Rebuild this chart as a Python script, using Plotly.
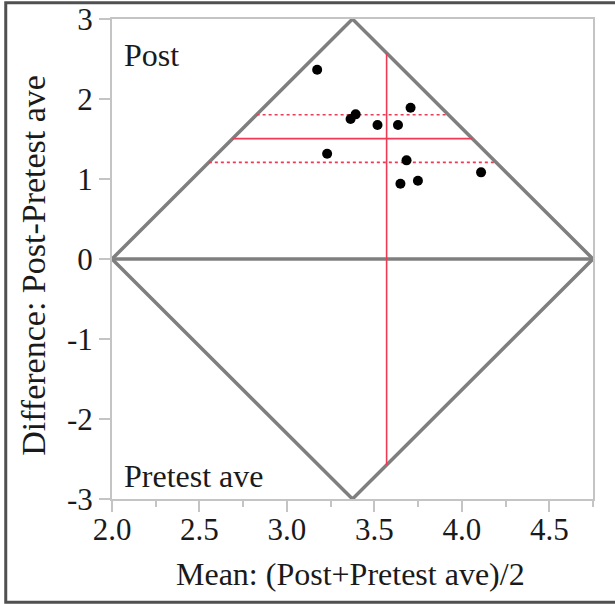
import plotly.graph_objects as go

# ---- data ----
mean_vals = [3.173, 3.230, 3.364, 3.393, 3.518, 3.635, 3.707, 3.684, 3.649, 3.749, 4.110]
diff_vals = [2.366, 1.316, 1.750, 1.808, 1.675, 1.675, 1.891, 1.233, 0.941, 0.979, 1.083]
mean_diff = 1.505
ci_upper = 1.804
ci_lower = 1.208
mean_of_means = 3.570

x_min, x_max = 2.0, 4.75
y_min, y_max = -3.0, 3.0
x_ticks = [2.0, 2.5, 3.0, 3.5, 4.0, 4.5]
x_tick_text = ["2.0", "2.5", "3.0", "3.5", "4.0", "4.5"]
y_ticks = [-3, -2, -1, 0, 1, 2, 3]
y_tick_text = ["-3", "-2", "-1", "0", "1", "2", "3"]

x_mid = (x_min + x_max) / 2
half_w = (x_max - x_min) / 2

def left_edge(y):
    return x_min + abs(y) * half_w / y_max

def right_edge(y):
    return x_max - abs(y) * half_w / y_max

def diamond_height(x):
    return y_max * (1 - abs(x - x_mid) / half_w)

FONT = "Liberation Serif"
RED = "#ee3a55"
GRAY = "#7f7f7f"
AX = "#c4c4c4"

fig = go.Figure()

# diamond
fig.add_trace(go.Scatter(
    x=[x_min, x_mid, x_max, x_mid, x_min],
    y=[0, y_max, 0, y_min, 0],
    mode="lines", line=dict(color=GRAY, width=3.5), hoverinfo="skip", showlegend=False))
# zero line
fig.add_trace(go.Scatter(
    x=[x_min, x_max], y=[0, 0],
    mode="lines", line=dict(color=GRAY, width=3.5), hoverinfo="skip", showlegend=False))

# red mean-difference line and CI lines
fig.add_trace(go.Scatter(
    x=[left_edge(mean_diff), right_edge(mean_diff)], y=[mean_diff, mean_diff],
    mode="lines", line=dict(color=RED, width=1.6), showlegend=False))
for yv in (ci_upper, ci_lower):
    fig.add_trace(go.Scatter(
        x=[left_edge(yv), right_edge(yv)], y=[yv, yv],
        mode="lines", line=dict(color=RED, width=1.6, dash="3px,3px"), showlegend=False))
h = diamond_height(mean_of_means)
fig.add_trace(go.Scatter(
    x=[mean_of_means, mean_of_means], y=[-h, h],
    mode="lines", line=dict(color=RED, width=1.6), showlegend=False))

# points
fig.add_trace(go.Scatter(
    x=mean_vals, y=diff_vals, mode="markers",
    marker=dict(color="black", size=10), showlegend=False))

fig.update_xaxes(
    range=[x_min, x_max], tickvals=x_ticks, ticktext=x_tick_text, automargin=False,
    showgrid=False, zeroline=False, showline=True, linecolor=AX, linewidth=2,
    mirror=True, ticks="outside", ticklen=11, tickwidth=1.5, tickcolor=AX,
    ticklabelstandoff=-9,
    minor=dict(dtick=0.25, tick0=2.0, ticks="outside", ticklen=6, tickwidth=1.5, tickcolor=AX, showgrid=False),
    tickfont=dict(family=FONT, size=31, color="#1a1a1a"))
fig.update_yaxes(
    range=[y_min, y_max], tickvals=y_ticks, ticktext=y_tick_text, automargin=False,
    showgrid=False, zeroline=False, showline=True, linecolor=AX, linewidth=2,
    mirror=True, ticks="outside", ticklen=11, tickwidth=1.5, tickcolor=AX,
    tickfont=dict(family=FONT, size=31, color="#1a1a1a"))

ann_font = dict(family=FONT, size=32, color="#1a1a1a")
fig.add_annotation(text="Post", xref="paper", yref="paper", x=0.02, y=0.926,
                   xanchor="left", yanchor="middle", showarrow=False, font=ann_font)
fig.add_annotation(text="Pretest ave", xref="paper", yref="paper", x=0.02, y=0.048,
                   xanchor="left", yanchor="middle", showarrow=False, font=ann_font)
fig.add_annotation(text="Mean: (Post+Pretest ave)/2", xref="paper", yref="paper",
                   x=0.495, y=-0.1565, xanchor="center", yanchor="middle",
                   showarrow=False, font=ann_font)
fig.add_annotation(text="Difference: Post-Pretest ave", xref="paper", yref="paper",
                   x=-0.163, y=0.487, xanchor="center", yanchor="middle", textangle=-90,
                   showarrow=False, font=dict(family=FONT, size=34, color="#1a1a1a"))

# outer border
fig.add_shape(type="rect", xref="paper", yref="paper",
              x0=-0.2209, x1=1.06, y0=-0.215, y1=1.034,
              line=dict(color="#505050", width=3), layer="above")

fig.update_layout(
    width=615, height=604,
    margin=dict(l=112, r=22, t=19, b=105, autoexpand=False),
    paper_bgcolor="white", plot_bgcolor="white",
    showlegend=False)

fig.write_html("out.html", config={"displayModeBar": False},
               post_script="document.body.style.margin='0';document.body.style.overflow='hidden';")
